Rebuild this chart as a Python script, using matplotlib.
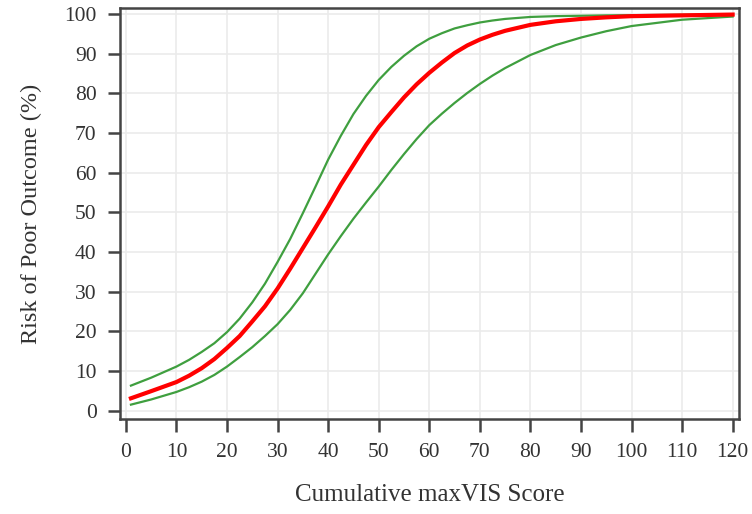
import matplotlib
matplotlib.use("Agg")
from matplotlib import pyplot as plt

# values
score = [1, 5, 10, 12.5, 15, 17.5, 20, 22.5, 25, 27.5, 30, 32.5, 35, 37.5, 40, 42.5, 45, 47.5, 50,
         52.5, 55, 57.5, 60, 62.5, 65, 67.5, 70, 72.5, 75, 80, 85, 90, 95, 100, 110, 120]
risk = [3.1, 4.9, 7.2, 8.8, 10.7, 13.0, 15.8, 18.8, 22.5, 26.3, 30.8, 35.8, 41.0, 46.2, 51.5, 57.0, 62.0, 67.0, 71.5,
        75.3, 79.0, 82.3, 85.2, 87.8, 90.2, 92.1, 93.6, 94.8, 95.8, 97.3, 98.2, 98.8, 99.2, 99.5, 99.7, 99.9]
upper = [6.3, 8.3, 11.1, 12.8, 14.8, 17.0, 19.8, 23.2, 27.3, 32.0, 37.5, 43.3, 49.8, 56.5, 63.3, 69.3, 74.8, 79.4, 83.4,
         86.7, 89.5, 91.9, 93.8, 95.2, 96.4, 97.2, 97.9, 98.4, 98.8, 99.3, 99.5, 99.6, 99.7, 99.75, 99.85, 99.9]
lower = [1.5, 2.8, 4.7, 5.9, 7.3, 9.0, 11.1, 13.5, 16.0, 18.8, 21.8, 25.4, 29.6, 34.5, 39.4, 44.0, 48.4, 52.5, 56.5,
         60.7, 64.7, 68.5, 72.0, 74.9, 77.6, 80.1, 82.4, 84.5, 86.4, 89.7, 92.2, 94.1, 95.7, 97.0, 98.6, 99.4]

plt.rcParams['font.family'] = ['Liberation Serif', 'DejaVu Serif']

fig = plt.figure(figsize=(7.52, 5.14), dpi=100)
ax = fig.add_axes([0.16, 0.185, 0.823, 0.799])

ax.plot(score, upper, color='#3f9f3f', lw=1.6)
ax.plot(score, lower, color='#3f9f3f', lw=1.6)
ax.plot(score, risk, color='#ff0000', lw=3)

ax.set_xlim(-1.1, 121.3)
ax.set_ylim(-2.1, 101.5)
ax.set_xticks(range(0, 121, 10))
ax.set_yticks(range(0, 101, 10))
ax.grid(True, color='#ebebeb', lw=1.2)
ax.set_axisbelow(True)

for s in ax.spines.values():
    s.set_color('#444444')
    s.set_linewidth(1.8)
ax.tick_params(direction='out', length=9, width=1.8, color='#444444',
               labelsize=15.5, labelcolor='#333333', pad=8)

ax.set_xlabel('Cumulative maxVIS Score', fontsize=18, color='#333333', labelpad=16)
ax.set_ylabel('Risk of Poor Outcome (%)', fontsize=17.5, color='#333333', labelpad=16)

fig.savefig('out.png', dpi=100)
